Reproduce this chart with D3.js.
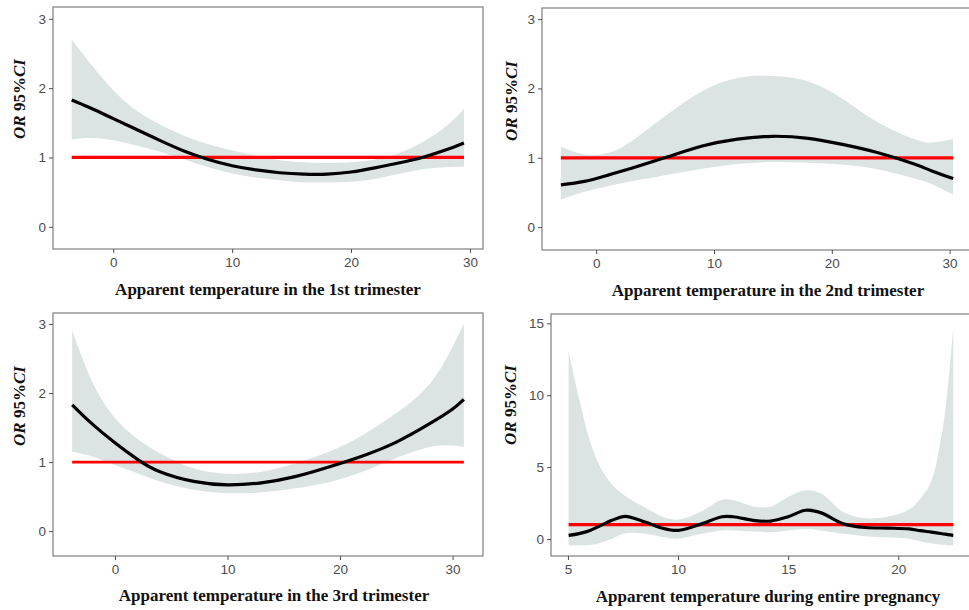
<!DOCTYPE html>
<meta charset="utf-8">
<head>
    <style>
        body { margin: 0; background: #fff; }
        .tick text { font-family: "Liberation Sans", Arial, sans-serif; font-size: 13.5px; fill: #4d4d4d; }
        .tick line { stroke: #4d4d4d; }
        .axis path { display: none; }
        .frame { fill: none; stroke: #7f7f7f; stroke-width: 1.2; }
        .title { font-family: "Liberation Serif", "Times New Roman", serif; font-weight: bold; font-size: 17px; fill: #111; }
    </style>
    <script src="https://d3js.org/d3.v7.min.js"></script>
</head>
<body>
<svg id="chart"></svg>
<script>
    var width = 969, height = 610;

    // 1st trimester
    var tri1Temp  = [-3.5, -2, 0, 2, 4, 6, 8, 10, 12, 14, 16, 18, 20, 22, 24, 26, 28, 29.5];
    var tri1OR    = [1.83, 1.72, 1.56, 1.40, 1.24, 1.09, 0.97, 0.88, 0.82, 0.78, 0.76, 0.76, 0.79, 0.85, 0.92, 1.00, 1.11, 1.21];
    var tri1Upper = [2.70, 2.37, 1.97, 1.67, 1.47, 1.31, 1.19, 1.10, 1.03, 0.96, 0.93, 0.92, 0.93, 0.97, 1.06, 1.22, 1.45, 1.70];
    var tri1Lower = [1.26, 1.28, 1.25, 1.17, 1.08, 0.97, 0.86, 0.77, 0.71, 0.67, 0.64, 0.64, 0.65, 0.69, 0.76, 0.83, 0.86, 0.87];

    // 2nd trimester
    var tri2Temp  = [-3, -1, 1, 3, 6, 9, 12, 15, 18, 21, 24, 27, 28.5, 30.3];
    var tri2OR    = [0.61, 0.66, 0.75, 0.85, 1.01, 1.17, 1.27, 1.31, 1.28, 1.19, 1.07, 0.91, 0.81, 0.70];
    var tri2Upper = [1.16, 1.05, 1.07, 1.24, 1.62, 1.96, 2.15, 2.18, 2.10, 1.84, 1.50, 1.27, 1.22, 1.27];
    var tri2Lower = [0.40, 0.51, 0.59, 0.66, 0.75, 0.84, 0.91, 0.94, 0.93, 0.90, 0.83, 0.70, 0.62, 0.47];

    // 3rd trimester
    var tri3Temp  = [-3.8, -2, 0, 2, 4, 7, 10, 13, 16, 19, 22, 25, 28, 30, 31];
    var tri3OR    = [1.83, 1.55, 1.28, 1.04, 0.86, 0.72, 0.67, 0.70, 0.79, 0.93, 1.09, 1.29, 1.56, 1.77, 1.91];
    var tri3Upper = [2.91, 2.16, 1.64, 1.34, 1.13, 0.91, 0.83, 0.86, 0.98, 1.15, 1.39, 1.71, 2.14, 2.67, 3.00];
    var tri3Lower = [1.15, 1.08, 0.96, 0.84, 0.72, 0.60, 0.55, 0.56, 0.62, 0.71, 0.86, 1.06, 1.22, 1.24, 1.22];

    // entire pregnancy
    var allTemp  = [5.03, 5.5, 6, 6.5, 7, 7.6, 8.5, 9.3, 10, 11, 12, 12.5, 13.5, 14.2, 15, 15.8, 16.5, 17.5, 18.5, 19.5, 20.5, 21, 21.5, 22, 22.25, 22.5];
    var allOR    = [0.25, 0.38, 0.60, 0.95, 1.30, 1.58, 1.18, 0.75, 0.60, 1.02, 1.55, 1.55, 1.28, 1.25, 1.55, 2.00, 1.82, 1.07, 0.80, 0.76, 0.70, 0.58, 0.48, 0.37, 0.31, 0.26];
    var allUpper = [13.0, 9.8, 6.8, 4.9, 3.8, 3.0, 2.2, 1.55, 1.35, 1.88, 2.74, 2.70, 2.25, 2.25, 2.93, 3.39, 3.16, 1.88, 1.45, 1.55, 2.05, 2.8, 4.0, 7.5, 10.5, 14.7];
    var allLower = [-0.44, -0.44, -0.42, -0.25, 0.02, 0.40, 0.37, 0.14, 0.02, 0.35, 0.60, 0.60, 0.52, 0.48, 0.60, 0.72, 0.60, 0.37, 0.20, 0.12, 0.02, -0.15, -0.30, -0.40, -0.43, -0.44];

    var titles = ["Apparent temperature in the 1st trimester",
                  "Apparent temperature in the 2nd trimester",
                  "Apparent temperature in the 3rd trimester",
                  "Apparent temperature during entire pregnancy"];
    var yTicks = [[0, 1, 2, 3], [0, 1, 2, 3], [0, 1, 2, 3], [0, 5, 10, 15]];
    var xTicks = [[0, 10, 20, 30], [0, 10, 20, 30], [0, 10, 20, 30], [5, 10, 15, 20]];

    var series = [
        [tri1Temp, tri1OR, tri1Lower, tri1Upper],
        [tri2Temp, tri2OR, tri2Lower, tri2Upper],
        [tri3Temp, tri3OR, tri3Lower, tri3Upper],
        [allTemp, allOR, allLower, allUpper]
    ];

    // panel boxes and axis ranges (pixels / data limits)
    var panels = [
        {x0: 53,  x1: 483, y0: 7,   y1: 249, xd: [-5.07, 31.1], yd: [-0.32, 3.17], titleX: 268, titleY: 295, yTitle: [19, 99]},
        {x0: 542, x1: 972, y0: 8,   y1: 250, xd: [-4.6, 31.9],  yd: [-0.33, 3.16], titleX: 768, titleY: 296, yTitle: [511, 101]},
        {x0: 53,  x1: 483, y0: 313, y1: 556, xd: [-5.5, 32.7],  yd: [-0.36, 3.16], titleX: 274, titleY: 601, yTitle: [19, 406]},
        {x0: 551, x1: 972, y0: 314, y1: 556, xd: [4.23, 23.35], yd: [-1.18, 15.65], titleX: 768, titleY: 602, yTitle: [510, 405]}
    ];
    var redWidth = [3.2, 3.2, 2.6, 3.2];
    // smooth spline for the trimester fits, catmull-rom for the wiggly whole-pregnancy one
    var curves = [d3.curveNatural, d3.curveNatural, d3.curveNatural, d3.curveCatmullRom.alpha(0.5)];

    var svg = d3.select("#chart")
        .attr("width", width)
        .attr("height", height);

    panels.forEach(function(p, i) {
        var s = series[i];
        var rows = s[0].map(function(t, k) {
            return {t: t, or: s[1][k], lo: s[2][k], hi: s[3][k]};
        });

        var x = d3.scaleLinear().domain(p.xd).range([p.x0, p.x1]);
        var y = d3.scaleLinear().domain(p.yd).range([p.y1, p.y0]);

        var g = svg.append("g").attr("class", "panel");

        var area = d3.area()
            .x(function(d) { return x(d.t); })
            .y0(function(d) { return y(d.lo); })
            .y1(function(d) { return y(d.hi); })
            .curve(curves[i]);

        g.append("path")
            .datum(rows)
            .attr("d", area)
            .style("fill", "#dbe3e3");

        var tMin = d3.min(s[0]), tMax = d3.max(s[0]);
        g.append("line")
            .attr("x1", x(tMin)).attr("x2", x(tMax))
            .attr("y1", y(1)).attr("y2", y(1))
            .style("stroke", "#ff0000")
            .style("stroke-width", redWidth[i]);

        var line = d3.line()
            .x(function(d) { return x(d.t); })
            .y(function(d) { return y(d.or); })
            .curve(curves[i]);

        g.append("path")
            .datum(rows)
            .attr("d", line)
            .style("fill", "none")
            .style("stroke", "#000")
            .style("stroke-width", 3.2);

        g.append("rect")
            .attr("class", "frame")
            .attr("x", p.x0).attr("y", p.y0)
            .attr("width", p.x1 - p.x0).attr("height", p.y1 - p.y0);

        g.append("g")
            .attr("class", "axis")
            .attr("transform", "translate(" + p.x0 + ",0)")
            .call(d3.axisLeft(y).tickValues(yTicks[i]).tickFormat(d3.format("d")).tickSize(4).tickPadding(3));

        g.append("g")
            .attr("class", "axis")
            .attr("transform", "translate(0," + p.y1 + ")")
            .call(d3.axisBottom(x).tickValues(xTicks[i]).tickFormat(d3.format("d")).tickSize(4).tickPadding(4));

        g.append("text")
            .attr("class", "title")
            .attr("x", p.titleX).attr("y", p.titleY)
            .attr("text-anchor", "middle")
            .text(titles[i]);

        var yt = g.append("text")
            .attr("class", "title")
            .attr("text-anchor", "middle")
            .attr("transform", "translate(" + (p.yTitle[0] + 6) + "," + p.yTitle[1] + ")rotate(-90)");
        yt.append("tspan").style("font-style", "italic").text("OR");
        yt.append("tspan").text(" 95%");
        yt.append("tspan").style("font-style", "italic").text("CI");
    });
</script>
</body>
